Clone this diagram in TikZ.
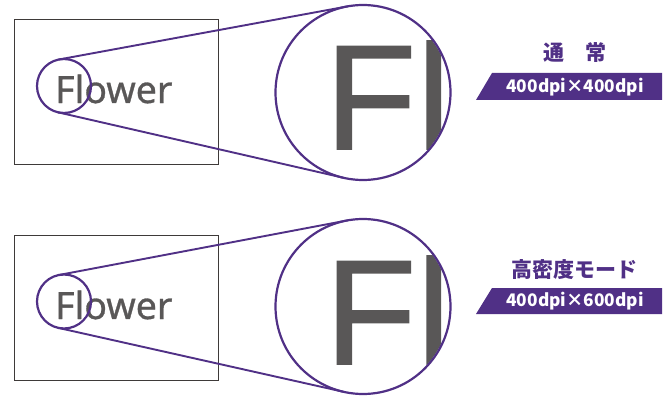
\documentclass[tikz,border=0pt]{standalone}
\usepackage{fontspec}
\setmainfont{Noto Sans}[FakeBold=0.8]
\newfontfamily\bigfont{Liberation Sans}[FakeBold=1.1]
\newfontfamily\jpfont{Noto Sans CJK JP}
\definecolor{lenspurple}{RGB}{80,48,134}
\definecolor{inkgray}{RGB}{89,87,87}
\definecolor{framegray}{RGB}{62,58,57}

\begin{document}
\begin{tikzpicture}[x=1pt,y=-1pt,
		lens/.style={circle,draw=lenspurple,line width=2.2pt,inner sep=0pt,outer sep=0pt},
		ray/.style={draw=lenspurple,line width=1.9pt},
		frame/.style={draw=framegray,line width=0.9pt},
		word/.style={inner sep=0pt,anchor=base west,text=inkgray},
		mode/.style={inner sep=0pt,text=lenspurple,font=\jpfont\bfseries\fontsize{21}{24}\selectfont},
		dpi/.style={inner sep=0pt,text=white,font=\jpfont\bfseries\fontsize{17.3}{20}\selectfont}]
		\useasboundingbox (0,0) rectangle (670,396);
		
		% normal
		\node[word,font=\fontsize{37.5}{40}\selectfont] (flower1) at (55,103) {Flower};
		\draw[frame] (14,19.5) rectangle (218.5,164);
		\begin{scope}
			\clip (363,92.5) circle (86.5pt);
			\node[word,font=\bigfont\fontsize{149}{150}\selectfont] (zoom1) at (325,149) {F\kern1pt l};
		\end{scope}
		\node[lens,minimum size=54pt] (small1) at (64,86) {};
		\node[lens,minimum size=175pt] (big1) at (363,92.5) {};
		\draw[ray] (small1.100.3) -- (big1.100.3);
		\draw[ray] (small1.257.2) -- (big1.257.2);
		\node[mode] (mode1) at (574.5,53) {通　常};
		\fill[lenspurple] (476,100) -- (492,73) -- (662,73) -- (662,100) -- cycle;
		\node[dpi] (dpi1) at (575,87) {400dpi×400dpi};
		
		% high density
		\node[word,font=\fontsize{37.5}{40}\selectfont] (flower2) at (55,319) {Flower};
		\draw[frame] (14,235.5) rectangle (218.5,380.5);
		\begin{scope}
			\clip (363,306.5) circle (86.5pt);
			\node[word,font=\bigfont\fontsize{149}{150}\selectfont] (zoom2) at (325,364) {F\kern1pt l};
		\end{scope}
		\node[lens,minimum size=54pt] (small2) at (64,301.5) {};
		\node[lens,minimum size=175pt] (big2) at (363,306.5) {};
		\draw[ray] (small2.100.3) -- (big2.100.3);
		\draw[ray] (small2.257.2) -- (big2.257.2);
		\node[mode] (mode2) at (574.5,270) {高密度モード};
		\fill[lenspurple] (476,314) -- (492,288) -- (662,288) -- (662,314) -- cycle;
		\node[dpi] (dpi2) at (575,301.5) {400dpi×600dpi};
\end{tikzpicture}
\end{document}
